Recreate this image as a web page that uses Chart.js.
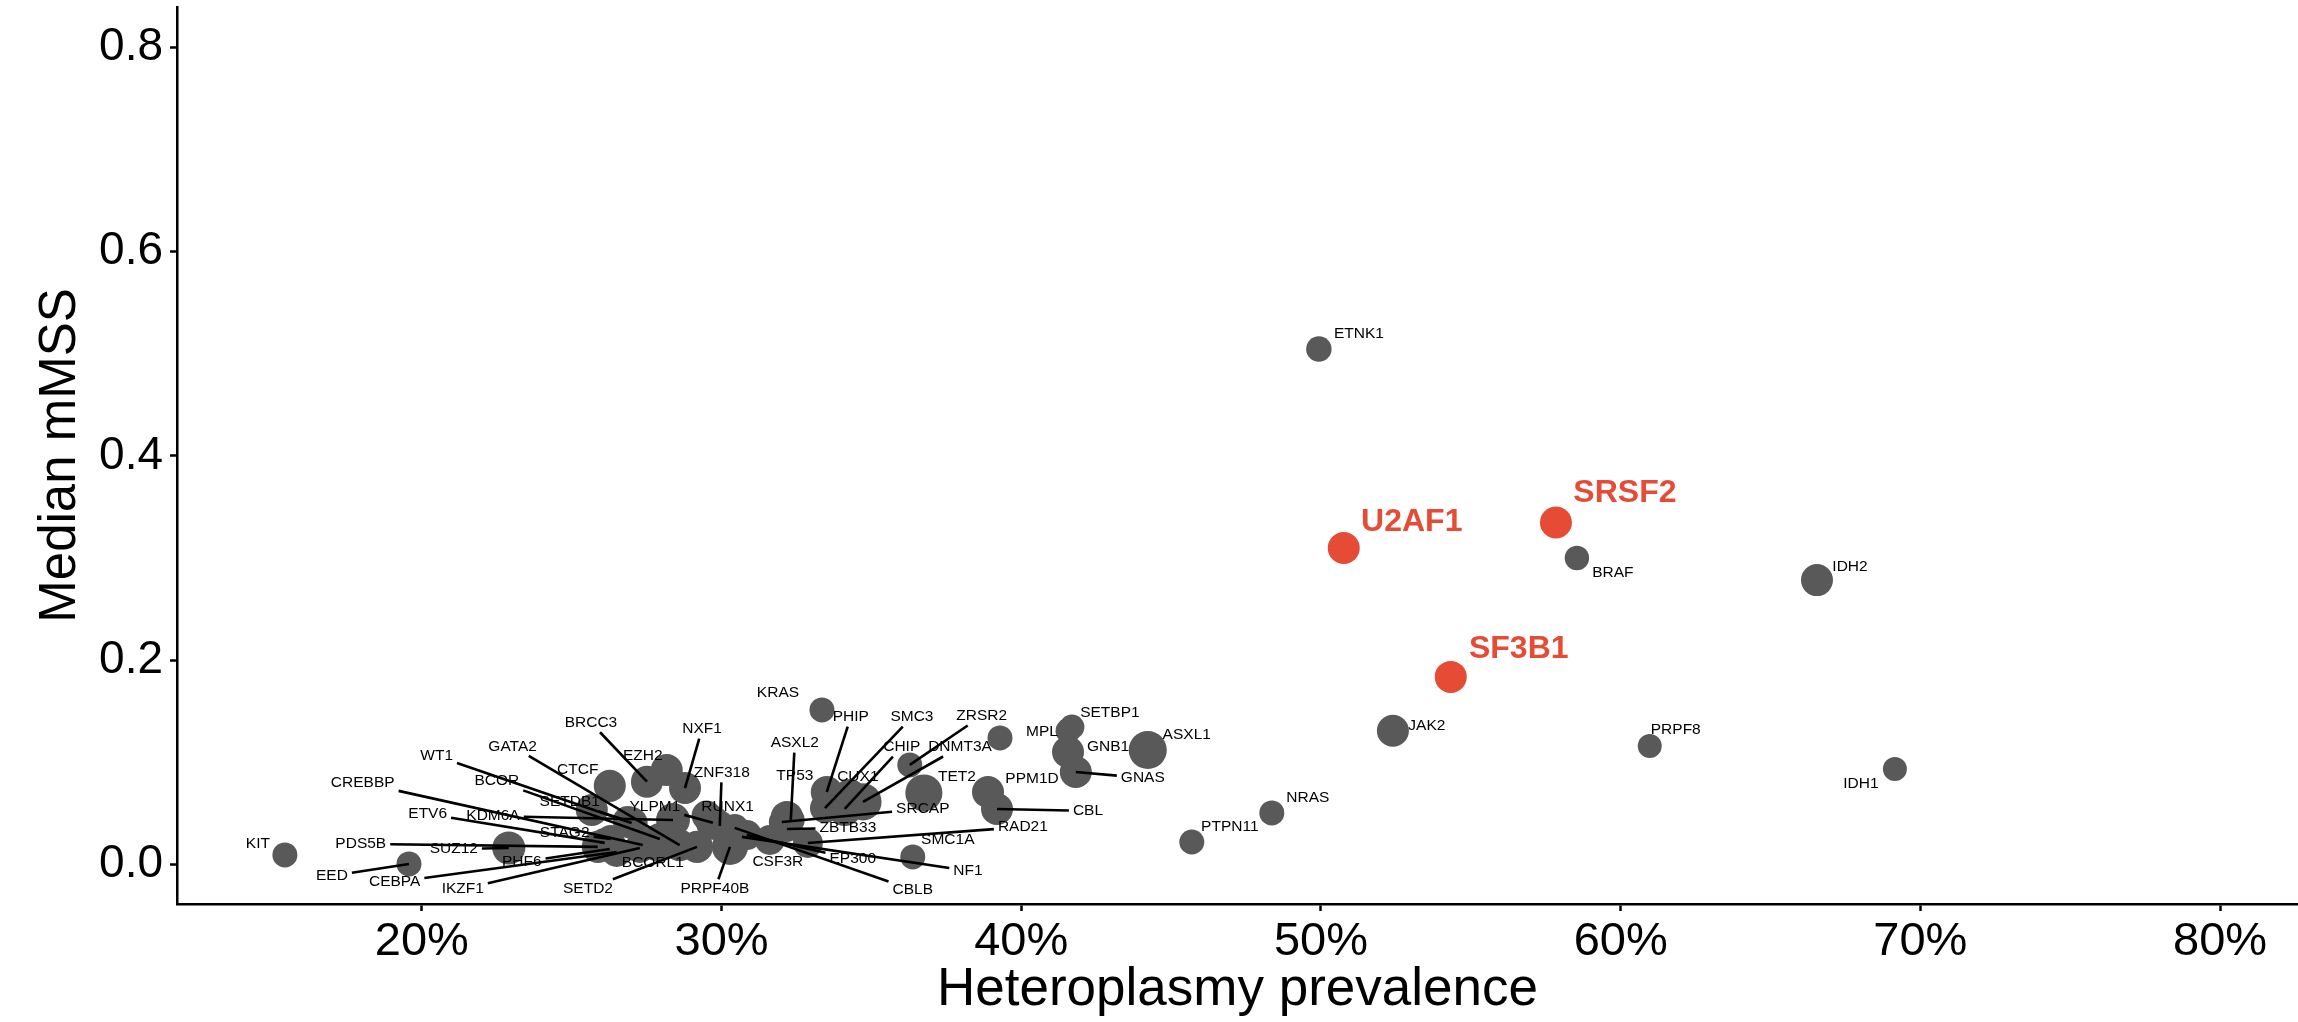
<!DOCTYPE html>
<html>
<head>
<meta charset="utf-8">
<script src="https://cdn.jsdelivr.net/npm/chart.js@4.4.1/dist/chart.umd.min.js"></script>
<style>
  html, body { margin: 0; padding: 0; background: #ffffff; }
  canvas { display: block; }
</style>
</head>
<body>
<canvas id="c" width="2298" height="1022"></canvas>
<script>
// ---------------- DATA ----------------
const genes = ['KIT','EED','SUZ12','PDS5B','CEBPA','IKZF1','PHF6','WT1','BCOR','CREBBP','GATA2','ETV6','KDM6A','STAG2','SETDB1','','CTCF','BRCC3','EZH2','NXF1','ZNF318','YLPM1','RUNX1','BCORL1','SETD2','PRPF40B','EP300','NF1','CBLB','CSF3R','TP53','ASXL2','SRCAP','ZBTB33','RAD21','KRAS','PHIP','SMC3','CHIP','CUX1','DNMT3A','ZRSR2','TET2','SMC1A','PPM1D','CBL','','MPL','SETBP1','GNB1','GNAS','ASXL1','PTPN11','NRAS','JAK2','PRPF8','IDH1','IDH2','BRAF','ETNK1','U2AF1','SRSF2','SF3B1'];

// heteroplasmy prevalence (%)
const prevalence = [15.43,19.57,22.9,25.87,26.5,27.27,26.27,27.0,27.94,27.37,28.6,26.1,28.38,26.3,26.87,25.67,26.27,27.51,28.17,28.78,29.94,29.71,29.5,27.84,29.18,30.28,30.84,30.68,30.44,31.61,32.18,32.31,32.01,32.18,32.88,33.35,33.51,33.45,34.11,34.28,34.72,36.28,36.75,36.38,38.89,39.19,39.29,41.56,41.69,41.56,41.82,44.22,45.69,48.36,52.4,60.97,69.15,66.55,58.54,49.93,50.76,57.84,54.33];

// median mMSS
const mMSS = [0.0095,0.0007,0.0163,0.0174,0.0124,0.0163,0.0153,0.0408,0.0251,0.0193,0.019,0.0213,0.0437,0.0251,0.0427,0.0536,0.0771,0.0812,0.0926,0.075,0.038,0.041,0.048,0.0212,0.0174,0.0174,0.029,0.0272,0.036,0.0242,0.0467,0.0437,0.0418,0.0349,0.0212,0.1514,0.0711,0.0554,0.0545,0.0682,0.0614,0.0976,0.0702,0.0076,0.0711,0.0545,0.124,0.131,0.1347,0.1103,0.0907,0.1122,0.0222,0.0506,0.131,0.1162,0.0936,0.2785,0.3001,0.5046,0.3099,0.3348,0.1837];

// carriers (marker size variable, estimated)
const carriers = [25,25,44,41,36,36,31,41,41,36,41,36,46,31,36,41,41,41,41,41,36,46,36,52,41,52,36,31,31,36,41,31,27,27,36,25,41,36,46,41,55,25,55,25,41,41,25,25,25,41,41,58,25,25,41,23,23,41,24,26,41,41,41];

const highlighted = ['U2AF1','SRSF2','SF3B1'];

const xTicks = [20,30,40,50,60,70,80];
const yTicks = [0.0,0.2,0.4,0.6,0.8];

// ---------------- LAYOUT / STYLE ----------------
const GRAY = '#595959';
const RED = '#E64B35';
const FONT = '"Liberation Sans", Arial, Helvetica, sans-serif';
const radiusOf = n => 2.5 * Math.sqrt(n);

// label anchor offsets in pixels from the point centre (repel layout)
const labelOffsets = {
  KIT:[-27,-11], EED:[-77,12], SUZ12:[-55,1], PDS5B:[-237,-3], CEBPA:[-222,30], IKZF1:[-177,41],
  PHF6:[-88,13], WT1:[-195,-67], BCOR:[-163,-58], CREBBP:[-280,-62], GATA2:[-167,-99], ETV6:[-177,-29],
  KDM6A:[-180,-4], STAG2:[-46,-6], SETDB1:[-58,-19], CTCF:[-32,-16], BRCC3:[-56,-59], EZH2:[-24,-14],
  NXF1:[17,-59], ZNF318:[2,-53], YLPM1:[-58,-16], RUNX1:[21,-9], BCORL1:[-4,20], SETD2:[-109,42],
  PRPF40B:[-15,42], EP300:[106,24], NF1:[226,34], CBLB:[178,62], CSF3R:[8,22], TP53:[8,-41],
  ASXL2:[4,-77], SRCAP:[141,-13], ZBTB33:[61,-1], RAD21:[215,-16], KRAS:[-44,-17], PHIP:[24,-75],
  SMC3:[87,-91], CHIP:[57,-62], CUX1:[8,-18], DNMT3A:[97,-55], ZRSR2:[72,-49], TET2:[33,-16],
  SMC1A:[35,-17], PPM1D:[44,-13], CBL:[91,2], MPL:[-26,1], SETBP1:[38,-14], GNB1:[40,-5],
  GNAS:[67,6], ASXL1:[39,-15], PTPN11:[38,-15], NRAS:[36,-15], JAK2:[34,-5], PRPF8:[26,-16],
  IDH1:[-34,15], IDH2:[33,-13], BRAF:[36,15], ETNK1:[40,-15], U2AF1:[68,-26], SRSF2:[69,-29], SF3B1:[68,-28]
};
const segmentLabels = ['EED','SUZ12','PDS5B','CEBPA','IKZF1','PHF6','WT1','BCOR','CREBBP','GATA2','ETV6','KDM6A','STAG2','SETDB1','BRCC3','NXF1','ZNF318','YLPM1','SETD2','PRPF40B','EP300','NF1','CBLB','ASXL2','SRCAP','ZBTB33','RAD21','PHIP','SMC3','CHIP','DNMT3A','ZRSR2','CBL','GNAS'];

// ---------------- BUILD ----------------
const grayPts = [], redPts = [];
genes.forEach((g, i) => {
  const p = { x: prevalence[i], y: mMSS[i], r: radiusOf(carriers[i]) };
  (highlighted.includes(g) ? redPts : grayPts).push(p);
});

const labelPlugin = {
  id: 'geneLabels',
  afterDatasetsDraw(chart) {
    const { ctx } = chart;
    const xs = chart.scales.x, ys = chart.scales.y;
    const items = [];
    ctx.save();
    genes.forEach((g, i) => {
      if (!g || !labelOffsets[g]) return;
      const hl = highlighted.includes(g);
      const fs = hl ? 32 : 15.5;
      const font = (hl ? 'bold ' : '') + fs + 'px ' + FONT;
      ctx.font = font;
      const w = ctx.measureText(g).width;
      const px = xs.getPixelForValue(prevalence[i]);
      const py = ys.getPixelForValue(mMSS[i]);
      const off = labelOffsets[g];
      items.push({ g, px, py, lx: px + off[0], ly: py + off[1], w, fs, font, hl });
    });
    ctx.strokeStyle = '#000';
    ctx.lineWidth = 2.6;
    ctx.lineCap = 'butt';
    items.forEach(it => {
      if (!segmentLabels.includes(it.g)) return;
      const hw = it.w / 2 + 4, hh = it.fs * 0.36 + 4;
      const dx = it.px - it.lx, dy = it.py - it.ly;
      const tx = dx !== 0 ? hw / Math.abs(dx) : Infinity;
      const ty = dy !== 0 ? hh / Math.abs(dy) : Infinity;
      const t = Math.min(tx, ty);
      if (t >= 1) return;
      ctx.beginPath();
      ctx.moveTo(it.lx + dx * t, it.ly + dy * t);
      ctx.lineTo(it.px, it.py);
      ctx.stroke();
    });
    ctx.textAlign = 'center';
    ctx.textBaseline = 'middle';
    items.forEach(it => {
      ctx.font = it.font;
      ctx.fillStyle = it.hl ? RED : '#000';
      ctx.fillText(it.g, it.lx, it.ly);
    });
    ctx.restore();
  }
};

Chart.defaults.font.family = FONT;
Chart.defaults.color = '#000';

new Chart(document.getElementById('c'), {
  type: 'bubble',
  data: {
    datasets: [
      { data: grayPts, backgroundColor: GRAY, borderWidth: 0, hoverBorderWidth: 0 },
      { data: redPts, backgroundColor: RED, borderWidth: 0, hoverBorderWidth: 0 }
    ]
  },
  options: {
    responsive: false,
    devicePixelRatio: 1,
    animation: false,
    events: [],
    layout: { autoPadding: false, padding: { top: 7, right: 0, left: 0, bottom: 0 } },
    plugins: { legend: { display: false }, tooltip: { enabled: false } },
    scales: {
      x: {
        type: 'linear',
        min: 11.83,
        max: 82.6,
        afterBuildTicks: s => { s.ticks = xTicks.map(v => ({ value: v })); },
        afterFit: s => { s.height = 118; s.paddingLeft = 0; s.paddingRight = 0; },
        ticks: { callback: v => v + '%', font: { size: 47 }, color: '#000', padding: 3, maxRotation: 0, autoSkip: false },
        grid: { drawOnChartArea: false, drawTicks: true, tickLength: 7, tickWidth: 2.5, tickColor: '#000' },
        border: { display: true, color: '#000', width: 2.5 },
        title: { display: true, text: 'Heteroplasmy prevalence', font: { size: 53 }, color: '#000', padding: { top: 0, bottom: 0 } }
      },
      y: {
        type: 'linear',
        min: -0.0385,
        max: 0.8393,
        afterBuildTicks: s => { s.ticks = yTicks.map(v => ({ value: v })); },
        afterFit: s => { s.width = 177; s.paddingTop = 0; s.paddingBottom = 0; },
        ticks: { callback: v => Number(v).toFixed(1), font: { size: 46 }, color: '#000', padding: 7, autoSkip: false },
        grid: { drawOnChartArea: false, drawTicks: true, tickLength: 7, tickWidth: 2.5, tickColor: '#000' },
        border: { display: true, color: '#000', width: 2.5 },
        title: { display: true, text: 'Median mMSS', font: { size: 51 }, color: '#000', padding: { top: 30, bottom: 0 } }
      }
    }
  },
  plugins: [labelPlugin]
});
</script>
</body>
</html>
